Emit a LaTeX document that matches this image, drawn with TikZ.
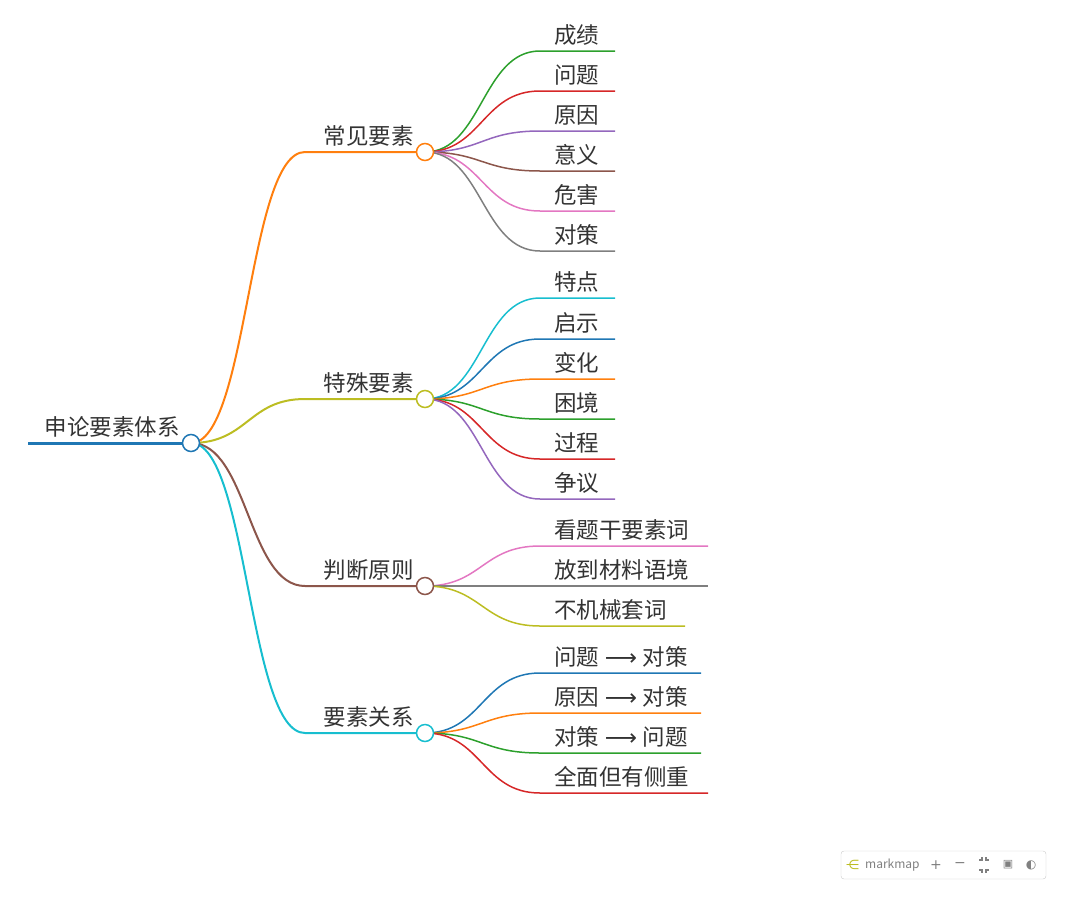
\documentclass[tikz,border=0pt]{standalone}
\usepackage{fontspec}
\setmainfont{Noto Sans CJK SC}
\newfontfamily\symf{DejaVu Sans}
\definecolor{cOr}{HTML}{FF7F0E}\definecolor{cOl}{HTML}{BCBD22}
\definecolor{cBr}{HTML}{8C564B}\definecolor{cCy}{HTML}{17BECF}
\definecolor{cGr}{HTML}{2CA02C}\definecolor{cRe}{HTML}{D62728}
\definecolor{cPu}{HTML}{9467BD}\definecolor{cPi}{HTML}{E377C2}
\definecolor{cGy}{HTML}{7F7F7F}\definecolor{cBl}{HTML}{1F77B4}
\definecolor{txt}{HTML}{333333}
\tikzset{x=1pt,y=-1pt,
 lbl/.style={anchor=base west,inner sep=0,text=txt,font=\fontsize{22.5}{22.5}\selectfont},
 lblr/.style={lbl,anchor=base east},
 dot/.style={circle,draw,fill=white,line width=1.5pt,minimum size=17pt,inner sep=0},
 tb/.style={inner sep=0,text=gray}}
\begin{document}
\begin{tikzpicture}
\useasboundingbox (0,0) rectangle (1067,900);
\coordinate (rs) at (28,443);
\coordinate (root) at (191,443);
\draw[cBl,line width=3pt] (rs) -- (root);
\node[lblr] (rt) at (180,435) {申论要素体系};
\newcommand\lvA[4]{%
 \draw[#3,line width=2pt] (root) .. controls (248,443) and (248,#2) .. (305,#2) -- (#1);
 \node[lblr] at (414,#2-8) {#4};}
\coordinate (a) at (425,152);\coordinate (b) at (425,399);
\coordinate (c) at (425,586);\coordinate (d) at (425,733);
\lvA{a}{152}{cOr}{常见要素}
\lvA{b}{399}{cOl}{特殊要素}
\lvA{c}{586}{cBr}{判断原则}
\lvA{d}{733}{cCy}{要素关系}
\newcommand\lf[5]{%
 \draw[#4,line width=1.5pt] (#1) .. controls (482,\py) and (482,#2) .. (540,#2) -- (#5,#2);
 \node[lbl] at (554,#2-8) {#3};}
\newcommand\ar{\hspace{0.25em}{\symf⟶}\hspace{0.25em}}
\def\py{152}
\lf{a}{51}{成绩}{cGr}{615}
\lf{a}{91}{问题}{cRe}{615}
\lf{a}{131}{原因}{cPu}{615}
\lf{a}{171}{意义}{cBr}{615}
\lf{a}{211}{危害}{cPi}{615}
\lf{a}{251}{对策}{cGy}{615}
\def\py{399}
\lf{b}{298}{特点}{cCy}{615}
\lf{b}{339}{启示}{cBl}{615}
\lf{b}{379}{变化}{cOr}{615}
\lf{b}{419}{困境}{cGr}{615}
\lf{b}{459}{过程}{cRe}{615}
\lf{b}{499}{争议}{cPu}{615}
\def\py{586}
\lf{c}{546}{看题干要素词}{cPi}{708}
\lf{c}{586}{放到材料语境}{cGy}{708}
\lf{c}{626}{不机械套词}{cOl}{685}
\def\py{733}
\lf{d}{673}{问题\ar 对策}{cBl}{701}
\lf{d}{713}{原因\ar 对策}{cOr}{701}
\lf{d}{753}{对策\ar 问题}{cGr}{701}
\lf{d}{793}{全面但有侧重}{cRe}{708}
\node[dot,draw=cBl] at (root) {};
\node[dot,draw=cOr] at (a) {};
\node[dot,draw=cOl] at (b) {};
\node[dot,draw=cBr] at (c) {};
\node[dot,draw=cCy] at (d) {};
% toolbar
\draw[gray!40,rounded corners=3pt,fill=white] (841,851) rectangle (1046,879);
\node[tb,anchor=west,text=cOl,font=\symf\fontsize{13}{13}\selectfont] at (846,865) {⋲};
\node[tb,anchor=west,font=\fontsize{12}{12}\selectfont] at (865,865) {markmap};
\node[tb,font=\symf\fontsize{14}{14}\selectfont] at (936,865) {+};
\node[tb,font=\symf\fontsize{14}{14}\selectfont] at (960,865) {−};
\draw[gray,line width=1.2pt] (979,860)--(982,860)--(982,857) (986,857)--(986,860)--(989,860)
  (979,870)--(982,870)--(982,873) (986,873)--(986,870)--(989,870);
\node[tb,font=\symf\fontsize{11}{11}\selectfont] at (1008,865) {▣};
\node[tb,font=\symf\fontsize{12}{12}\selectfont] at (1031,865) {◐};
\end{tikzpicture}
\end{document}
